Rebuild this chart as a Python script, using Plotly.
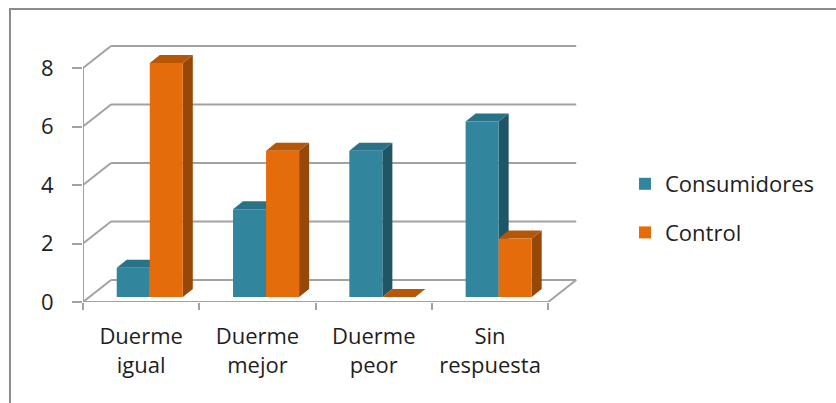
import plotly.graph_objects as go

# Responses about sleep, by group
categories = ["Duerme<br>igual", "Duerme<br>mejor", "Duerme<br>peor", "Sin<br>respuesta"]
consumidores = [1, 3, 5, 6]
control = [8, 5, 0, 2]
y_ticks = [0, 2, 4, 6, 8]

# Pseudo-3D geometry (in axis units)
WALL_DX, WALL_DY = 0.2408, 0.752      # depth of floor / back wall
BAR_DX, BAR_DY = 0.086, 0.274         # depth of each column
BAR_BASE = 0.171                      # columns sit slightly back on the floor
BAR_W = 0.284
OFFSETS = {"Consumidores": -0.21, "Control": 0.074}

TEAL = {"front": "#31859C", "top": "#2A7287", "side": "#1F5564"}
ORANGE = {"front": "#E46C0A", "top": "#B65708", "side": "#984806"}
GRID = "#A2A2A2"
FONT = "Open Sans"

fig = go.Figure()

for name, vals, pal in [("Consumidores", consumidores, TEAL), ("Control", control, ORANGE)]:
    fig.add_trace(go.Bar(
        name=name, x=categories, y=vals, base=BAR_BASE,
        offset=OFFSETS[name], width=BAR_W,
        marker=dict(color=pal["front"], line=dict(width=0)),
        legendgroup=name, hoverinfo="skip",
    ))

shapes = []

def line(x0, y0, x1, y1, color=GRID, width=2):
    shapes.append(dict(type="line", xref="x", yref="y", x0=x0, y0=y0, x1=x1, y1=y1,
                       line=dict(color=color, width=width), layer="below"))

def poly(pts, color):
    path = "M " + " L ".join(f"{x},{y}" for x, y in pts) + " Z"
    shapes.append(dict(type="path", xref="x", yref="y", path=path,
                       fillcolor=color, line=dict(width=0), layer="below"))

n = len(categories)
x_left, x_right = -0.5, n - 0.5

# back wall gridlines with their receding floor-side segments
for v in y_ticks:
    line(x_left, v, x_left + WALL_DX, v + WALL_DY)
    line(x_left + WALL_DX, v + WALL_DY, x_right + WALL_DX, v + WALL_DY)
# floor front edge, right floor edge, front value axis
line(x_left, 0, x_right, 0)
line(x_right, 0, x_right + WALL_DX, WALL_DY)
line(x_left, 0, x_left, max(y_ticks))

# column side and top faces
for i in range(n):
    for name, vals, pal in [("Consumidores", consumidores, TEAL), ("Control", control, ORANGE)]:
        xl = i + OFFSETS[name]
        xr = xl + BAR_W
        yb = BAR_BASE
        yt = BAR_BASE + vals[i]
        poly([(xr, yb), (xr, yt), (xr + BAR_DX, yt + BAR_DY), (xr + BAR_DX, yb + BAR_DY)], pal["side"])
        poly([(xl, yt), (xr, yt), (xr + BAR_DX, yt + BAR_DY), (xl + BAR_DX, yt + BAR_DY)], pal["top"])

# chart area border
shapes.append(dict(type="rect", xref="paper", yref="paper",
                   x0=-0.1475, y0=-0.45, x1=1.6, y1=1.118,
                   line=dict(color="#8C8C8C", width=2), fillcolor="rgba(0,0,0,0)", layer="below"))

fig.update_layout(
    width=836, height=403,
    margin=dict(l=83, r=258, t=40, b=101),
    paper_bgcolor="white", plot_bgcolor="white",
    barmode="overlay",
    shapes=shapes,
    font=dict(family=FONT, size=22, color="#1E1E1E"),
    xaxis=dict(
        type="category", categoryorder="array", categoryarray=categories,
        range=[-0.5, -0.5 + 495 / 116.3],
        showgrid=False, zeroline=False, showline=False,
        ticks="outside", tickson="boundaries", ticklen=7, tickwidth=2, tickcolor=GRID,
        ticklabelstandoff=19,
        tickfont=dict(family=FONT, size=22, color="#1E1E1E"),
    ),
    yaxis=dict(
        range=[0, 262 / 29.25],
        tickvals=y_ticks,
        showgrid=False, zeroline=False, showline=False,
        ticks="outside", ticklen=10, tickwidth=2, tickcolor=GRID,
        ticklabelstandoff=14,
        tickfont=dict(family=FONT, size=22, color="#1E1E1E"),
    ),
    legend=dict(
        xref="container", yref="container",
        x=625 / 836, y=1 - 208.5 / 403, xanchor="left", yanchor="middle",
        font=dict(family=FONT, size=22, color="#1E1E1E"),
        tracegroupgap=17, bgcolor="rgba(0,0,0,0)",
    ),
    showlegend=True,
)

fig.write_html("out.html")
